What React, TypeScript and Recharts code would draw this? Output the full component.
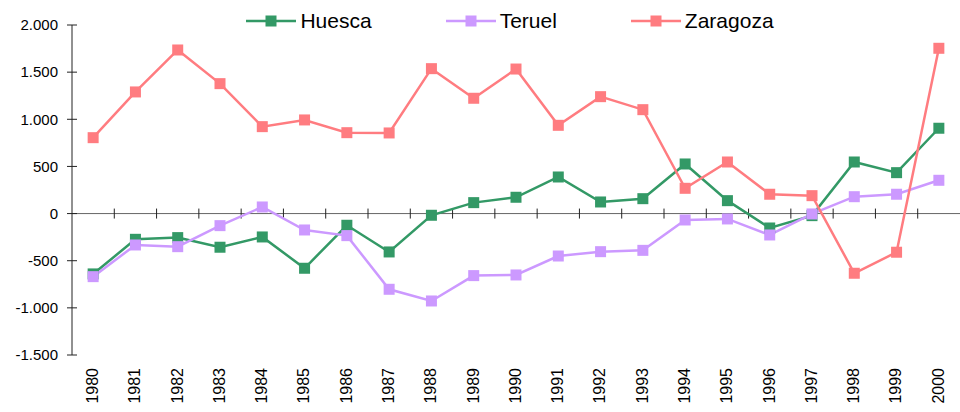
import React from "react";
import { LineChart, Line, XAxis, YAxis, ReferenceLine, Legend } from "recharts";

const years = ["1980","1981","1982","1983","1984","1985","1986","1987","1988","1989","1990","1991","1992","1993","1994","1995","1996","1997","1998","1999","2000"];
const huesca = [-640, -273, -255, -357, -248, -580, -124, -407, -18, 116, 173, 388, 123, 158, 526, 137, -153, -22, 547, 434, 905];
const teruel = [-669, -333, -351, -128, 70, -174, -234, -803, -927, -658, -651, -450, -404, -390, -68, -57, -227, -4, 179, 205, 353];
const zaragoza = [805, 1290, 1735, 1378, 922, 993, 858, 855, 1537, 1223, 1533, 936, 1240, 1102, 268, 547, 205, 190, -633, -410, 1753];
const yTicks = [-1500, -1000, -500, 0, 500, 1000, 1500, 2000];

const seriesNames = ["Huesca", "Teruel", "Zaragoza"];
const colors = ["#339966", "#CC99FF", "#FF7C80"];

const data = years.map((y, i) => ({
  idx: i,
  year: y,
  Huesca: huesca[i],
  Teruel: teruel[i],
  Zaragoza: zaragoza[i],
}));

const xTickIdx = years.map((_, i) => i);
const boundaries = years.slice(1).map((_, i) => i + 0.5);

const FONT = "'Liberation Sans', Arial, sans-serif";

const fmt = (v: number) => {
  const s = Math.abs(v).toString().replace(/\B(?=(\d{3})+(?!\d))/g, ".");
  return v < 0 ? "-" + s : s;
};

const YTick = (props: any) => {
  const { x, y, payload } = props;
  return (
    <g>
      <line x1={x + 9} x2={x + 19} y1={y} y2={y} stroke="#222" strokeWidth={1} />
      <text x={x} y={y} dy="0.35em" textAnchor="end" fontSize={15} fontFamily={FONT} fill="#000">
        {fmt(payload.value)}
      </text>
    </g>
  );
};

const XTick = (props: any) => {
  const { x, y, payload } = props;
  return (
    <text
      transform={`translate(${x},${y}) rotate(-90)`}
      x={0}
      y={0}
      dy="0.3em"
      textAnchor="end"
      fontSize={16}
      fontFamily={FONT}
      fill="#000"
    >
      {years[payload.value]}
    </text>
  );
};

const makeDot = (color: string) => (p: any) => {
  const { cx, cy, index } = p;
  if (cx == null || cy == null) return <g key={index} />;
  return <rect key={index} x={cx - 5.5} y={cy - 5.5} width={11} height={11} fill={color} />;
};

const LegendContent = () => (
  <div
    style={{
      display: "flex",
      justifyContent: "center",
      alignItems: "center",
      paddingLeft: 60,
      fontFamily: FONT,
      fontSize: 21,
      lineHeight: "24px",
      color: "#000",
    }}
  >
    {seriesNames.map((n, i) => (
      <div key={n} style={{ display: "flex", alignItems: "center", marginRight: i < 2 ? 74 : 0 }}>
        <svg width={50} height={14} style={{ marginRight: 4 }}>
          <line x1={0} x2={50} y1={7} y2={7} stroke={colors[i]} strokeWidth={2.5} />
          <rect x={19.5} y={1.5} width={11} height={11} fill={colors[i]} />
        </svg>
        <span>{n}</span>
      </div>
    ))}
  </div>
);

export default function App() {
  return (
    <div style={{ position: "absolute", left: 0, top: 0, background: "#fff" }}>
      <LineChart
        width={960}
        height={412}
        data={data}
        margin={{ top: 25, right: 0, left: 0, bottom: 0 }}
      >
        <XAxis
          dataKey="idx"
          type="number"
          domain={[-0.5, 20.5]}
          ticks={xTickIdx}
          interval={0}
          allowDataOverflow
          axisLine={false}
          tickLine={false}
          tickSize={0}
          tickMargin={13}
          height={57}
          tick={<XTick />}
        />
        <YAxis
          type="number"
          domain={[-1500, 2000]}
          ticks={yTicks}
          interval={0}
          width={72}
          tickLine={false}
          tickSize={5}
          tickMargin={9}
          axisLine={{ stroke: "#222", strokeWidth: 1 }}
          tick={<YTick />}
        />
        <ReferenceLine y={0} stroke="#666" strokeWidth={1} />
        {boundaries.map((b) => (
          <ReferenceLine
            key={b}
            segment={[{ x: b, y: -53 }, { x: b, y: 53 }]}
            stroke="#222"
            strokeWidth={1}
          />
        ))}
        <Legend
          verticalAlign="middle"
          layout="horizontal"
          align="center"
          wrapperStyle={{ top: 9, left: 0, width: 960 }}
          content={<LegendContent />}
        />
        {seriesNames.map((n, i) => (
          <Line
            key={n}
            type="linear"
            dataKey={n}
            stroke={colors[i]}
            strokeWidth={2.5}
            dot={makeDot(colors[i])}
            activeDot={false}
            isAnimationActive={false}
          />
        ))}
      </LineChart>
    </div>
  );
}
